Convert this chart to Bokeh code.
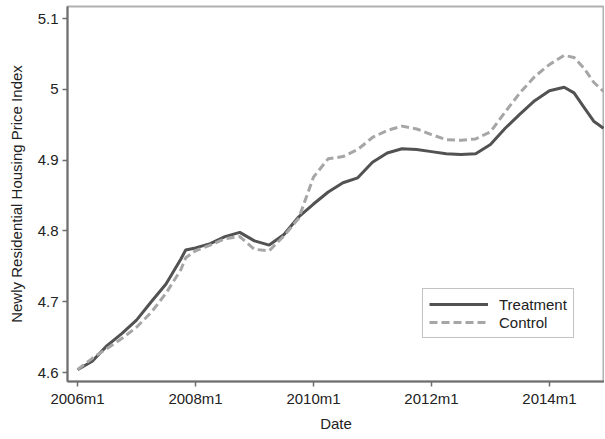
from bokeh.plotting import figure
from bokeh.models import FixedTicker, Range1d, Legend, LegendItem
from bokeh.embed import file_html
from bokeh.resources import INLINE

# months since 2006m1
months = [0, 3, 6, 9, 12, 15, 18, 21, 22, 24, 27, 30, 33, 36, 39, 42, 45, 48, 51, 54,
          57, 60, 63, 66, 69, 72, 75, 78, 81, 84, 87, 90, 93, 96, 99, 101, 103, 105, 107]
treatment = [4.604, 4.616, 4.638, 4.655, 4.674, 4.700, 4.725, 4.760, 4.773, 4.776, 4.782,
             4.792, 4.798, 4.786, 4.780, 4.795, 4.820, 4.838, 4.855, 4.868, 4.875, 4.897,
             4.910, 4.916, 4.915, 4.912, 4.909, 4.908, 4.909, 4.922, 4.945, 4.965, 4.984,
             4.998, 5.003, 4.995, 4.975, 4.955, 4.945]
control = [4.604, 4.620, 4.634, 4.648, 4.664, 4.685, 4.712, 4.745, 4.762, 4.772, 4.780,
           4.789, 4.792, 4.774, 4.772, 4.793, 4.818, 4.876, 4.902, 4.905, 4.915, 4.932,
           4.942, 4.948, 4.944, 4.936, 4.929, 4.928, 4.930, 4.940, 4.968, 4.995, 5.018,
           5.035, 5.048, 5.045, 5.030, 5.010, 4.997]

x_ticks = [0, 24, 48, 72, 96]
x_labels = ["2006m1", "2008m1", "2010m1", "2012m1", "2014m1"]
y_ticks = [4.6, 4.7, 4.8, 4.9, 5.0, 5.1]
y_labels = ["4.6", "4.7", "4.8", "4.9", "5", "5.1"]

FONT = "Liberation Sans"

p = figure(width=604, height=437, output_backend="svg", toolbar_location=None,
           x_range=Range1d(-2.04, 107.2), y_range=Range1d(4.5873, 5.117),
           min_border_left=67, min_border_right=0, min_border_top=6, min_border_bottom=56)
p.background_fill_color = "white"
p.border_fill_color = "white"
p.grid.visible = False
p.outline_line_color = "#b0b0b0"
p.outline_line_width = 2

r1 = p.line(months, treatment, line_color="#525252", line_width=3)
r2 = p.line(months, control, line_color="#a6a6a6", line_width=3, line_dash="8 4")

p.xaxis.ticker = FixedTicker(ticks=x_ticks)
p.xaxis.major_label_overrides = {t: l for t, l in zip(x_ticks, x_labels)}
p.yaxis.ticker = FixedTicker(ticks=y_ticks)
p.yaxis.major_label_overrides = {t: l for t, l in zip(y_ticks, y_labels)}

for ax in (p.xaxis, p.yaxis):
    ax.axis_line_color = "#6e6e6e"
    ax.axis_line_width = 2
    ax.major_tick_line_color = "#6e6e6e"
    ax.major_tick_line_width = 1.5
    ax.major_tick_out = 5
    ax.major_tick_in = 0
    ax.minor_tick_line_color = None
    ax.major_label_text_font = FONT
    ax.major_label_text_font_size = "15px"
    ax.major_label_text_color = "#222222"
    ax.axis_label_text_font = FONT
    ax.axis_label_text_font_size = "15px"
    ax.axis_label_text_font_style = "normal"
    ax.axis_label_text_color = "#222222"

p.xaxis.axis_label = "Date"
p.yaxis.axis_label = "Newly Residential Housing Price Index"
p.xaxis.major_label_standoff = 3
p.xaxis.axis_label_standoff = 5
p.yaxis.major_label_standoff = 4
p.yaxis.axis_label_standoff = 10

legend = Legend(items=[LegendItem(label="Treatment", renderers=[r1]),
                       LegendItem(label="Control", renderers=[r2])],
                location=(355, 43))
legend.glyph_width = 59
legend.glyph_height = 18
legend.label_text_font = FONT
legend.label_text_font_size = "15px"
legend.label_text_color = "#222222"
legend.label_standoff = 11
legend.spacing = 0
legend.padding = 6
legend.border_line_color = "#888888"
legend.border_line_width = 1
legend.background_fill_alpha = 1
legend.margin = 0
p.add_layout(legend, "center")

open("out.html", "w").write(file_html(p, INLINE))
